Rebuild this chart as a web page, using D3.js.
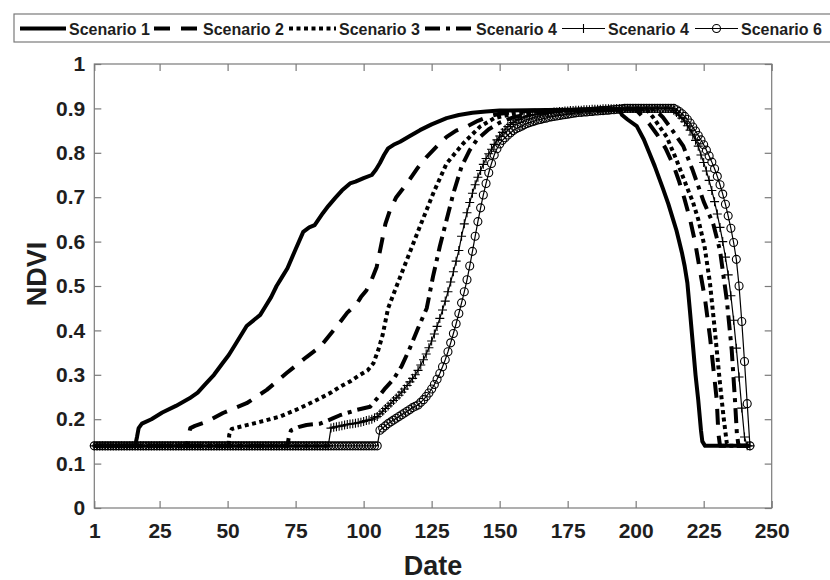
<!DOCTYPE html>
<html><head><meta charset="utf-8">
<script src="https://cdn.jsdelivr.net/npm/d3@7"></script>
<style>body{margin:0;background:#fff}svg{display:block}</style>
</head><body><svg id="chart" width="830" height="580"></svg>
<script>
// ---------------- data ----------------
const xTicks = [1, 25, 50, 75, 100, 125, 150, 175, 200, 225, 250];
const yTicks = [0, 0.1, 0.2, 0.3, 0.4, 0.5, 0.6, 0.7, 0.8, 0.9, 1];
const xLabel = "Date";
const yLabel = "NDVI";
const legendLabels = ["Scenario 1", "Scenario 2", "Scenario 3", "Scenario 4", "Scenario 4", "Scenario 6"];

// Scenario 1 (solid) [day, NDVI]
const scenario1 = [[1,0.14],[16,0.14],[16.7,0.16],[17.3,0.18],[18.5,0.19],[22,0.20],[26,0.215],[31,0.23],[36,0.247],[39,0.26],[42,0.28],[45,0.30],[48,0.325],[50.5,0.345],[53,0.37],[57,0.41],[60,0.425],[62,0.435],[64,0.455],[66,0.475],[68,0.50],[70,0.52],[72,0.54],[74.8,0.58],[77.8,0.622],[80,0.632],[82,0.637],[85,0.664],[87,0.68],[89.5,0.698],[92,0.715],[95,0.731],[97,0.735],[100,0.743],[103,0.75],[104.5,0.762],[106,0.777],[107.5,0.795],[109,0.81],[111,0.818],[113.4,0.825],[117,0.838],[120.7,0.851],[125,0.864],[130.5,0.878],[135,0.885],[140,0.89],[145,0.893],[150,0.895],[160,0.896],[175,0.897],[190,0.898],[194,0.897],[195,0.885],[197,0.875],[200.4,0.86],[203,0.83],[205,0.80],[207,0.77],[210,0.72],[212,0.685],[214,0.645],[215,0.625],[216,0.60],[217,0.575],[218,0.545],[219,0.507],[220,0.44],[221,0.37],[222,0.30],[223,0.243],[224,0.175],[224.5,0.15],[225.5,0.14],[242,0.14]];

// Scenario 2 (dashed)
const scenario2 = [[1,0.14],[35,0.14],[35.5,0.16],[36.3,0.18],[38,0.185],[42.3,0.194],[48.3,0.214],[57,0.236],[64.4,0.266],[71.7,0.304],[79,0.34],[84,0.363],[90,0.408],[94,0.44],[97.5,0.46],[99,0.475],[101,0.49],[103,0.515],[104.8,0.543],[106.7,0.60],[108,0.64],[109.7,0.671],[112,0.70],[115.9,0.731],[120,0.767],[123.2,0.791],[127,0.815],[130.5,0.836],[134,0.85],[137.9,0.859],[142,0.872],[146,0.882],[150,0.888],[160,0.894],[175,0.897],[200,0.898],[202,0.885],[205,0.865],[208,0.84],[211,0.81],[214,0.77],[216,0.735],[218,0.695],[220,0.65],[221.8,0.60],[223.6,0.536],[225.5,0.47],[227.3,0.386],[228.5,0.318],[229.8,0.243],[230.4,0.168],[231,0.14],[242,0.14]];

// Scenario 3 (dotted)
const scenario3 = [[1,0.14],[50.3,0.14],[50.6,0.165],[51.5,0.178],[54.6,0.183],[61.9,0.194],[69.3,0.206],[76.6,0.225],[84,0.247],[88,0.26],[91.3,0.273],[95,0.285],[98.7,0.30],[101.5,0.31],[103.6,0.326],[105.4,0.356],[107,0.39],[109,0.45],[112,0.498],[115.9,0.559],[120.7,0.634],[125.6,0.709],[130.5,0.776],[136.6,0.821],[142.8,0.859],[148,0.878],[155,0.888],[165,0.894],[180,0.897],[204,0.898],[206.4,0.88],[211.4,0.836],[215,0.784],[219,0.72],[221,0.69],[223,0.65],[225.3,0.59],[227.3,0.507],[229.2,0.394],[231,0.28],[232.3,0.205],[233.5,0.146],[234,0.14],[242,0.14]];

// Scenario 4 (dash-dot)
const scenario4 = [[1,0.14],[72,0.14],[72.5,0.16],[73.3,0.175],[76,0.182],[79,0.187],[84,0.19],[88,0.2],[91.3,0.209],[97.5,0.221],[102.4,0.228],[105.4,0.25],[108,0.27],[111,0.29],[114,0.32],[117,0.36],[120,0.405],[123.2,0.45],[125.5,0.521],[128,0.589],[130.5,0.649],[133,0.709],[136,0.769],[139,0.806],[141.6,0.829],[146,0.853],[150,0.868],[155,0.88],[162,0.889],[170,0.894],[185,0.897],[207,0.898],[210,0.88],[213,0.855],[217.5,0.815],[221,0.76],[225,0.69],[228.5,0.64],[231,0.58],[233.5,0.468],[235.3,0.356],[236.5,0.243],[237.2,0.168],[237.8,0.14],[242,0.14]];

// Scenario "4" (+ markers), daily values from day 1
const scenario5 = [
0.14,0.14,0.14,0.14,0.14,0.14,0.14,0.14,0.14,0.14,
0.14,0.14,0.14,0.14,0.14,0.14,0.14,0.14,0.14,0.14,
0.14,0.14,0.14,0.14,0.14,0.14,0.14,0.14,0.14,0.14,
0.14,0.14,0.14,0.14,0.14,0.14,0.14,0.14,0.14,0.14,
0.14,0.14,0.14,0.14,0.14,0.14,0.14,0.14,0.14,0.14,
0.14,0.14,0.14,0.14,0.14,0.14,0.14,0.14,0.14,0.14,
0.14,0.14,0.14,0.14,0.14,0.14,0.14,0.14,0.14,0.14,
0.14,0.14,0.14,0.14,0.14,0.14,0.14,0.14,0.14,0.14,
0.14,0.14,0.14,0.14,0.14,0.14,0.14,
0.180,0.182,0.183,0.184,0.185,0.187,0.188,0.189,0.190,0.191,0.192,0.193,0.195,0.197,0.198,0.200,0.203,0.206,
0.212,0.218,0.224,0.230,0.236,0.242,0.248,0.254,0.261,0.268,
0.276,0.284,0.292,0.300,0.310,0.322,0.334,0.347,0.361,0.376,
0.392,0.409,0.427,0.446,0.466,0.487,0.509,0.532,0.556,0.580,
0.612,0.640,0.665,0.688,0.709,0.728,0.745,0.760,0.774,0.787,
0.798,0.808,0.819,0.829,0.838,0.846,0.853,0.859,0.864,0.868,
0.872,0.875,0.878,0.880,0.882,
0.884,0.885,0.886,0.887,0.888,0.889,0.890,0.890,0.891,0.892,
0.892,0.893,0.893,0.894,0.894,
0.895,0.895,0.896,0.896,0.896,0.897,0.897,0.897,0.898,0.898,
0.898,0.898,0.899,0.899,0.899,0.899,0.899,0.900,0.900,0.900,
0.900,0.900,0.900,0.900,0.900,0.900,0.900,0.900,0.900,0.900,
0.900,0.900,0.900,0.900,0.900,0.900,0.900,
0.900,0.896,0.891,0.885,0.878,0.870,0.861,0.851,0.840,0.828,
0.815,0.795,0.778,0.759,0.738,0.715,0.690,0.662,0.632,0.600,
0.565,0.525,0.478,0.423,0.360,0.295,0.225,0.160,0.140,0.140];

// Scenario 6 (o markers), daily values from day 1
const scenario6 = [
0.14,0.14,0.14,0.14,0.14,0.14,0.14,0.14,0.14,0.14,
0.14,0.14,0.14,0.14,0.14,0.14,0.14,0.14,0.14,0.14,
0.14,0.14,0.14,0.14,0.14,0.14,0.14,0.14,0.14,0.14,
0.14,0.14,0.14,0.14,0.14,0.14,0.14,0.14,0.14,0.14,
0.14,0.14,0.14,0.14,0.14,0.14,0.14,0.14,0.14,0.14,
0.14,0.14,0.14,0.14,0.14,0.14,0.14,0.14,0.14,0.14,
0.14,0.14,0.14,0.14,0.14,0.14,0.14,0.14,0.14,0.14,
0.14,0.14,0.14,0.14,0.14,0.14,0.14,0.14,0.14,0.14,
0.14,0.14,0.14,0.14,0.14,0.14,0.14,0.14,0.14,0.14,
0.14,0.14,0.14,0.14,0.14,0.14,0.14,0.14,0.14,0.14,
0.14,0.14,0.14,0.14,0.14,
0.175,0.180,0.185,0.190,0.194,0.198,0.202,0.206,0.210,0.214,
0.218,0.222,0.226,0.229,0.232,
0.238,0.244,0.251,0.259,0.268,0.278,0.290,0.303,0.318,0.334,
0.352,0.372,0.393,0.415,0.438,0.462,0.487,0.514,0.545,0.578,
0.612,0.645,0.676,0.705,0.731,0.755,0.776,0.795,0.809,0.820,
0.828,0.834,0.840,0.845,0.850,0.854,0.857,0.860,0.863,0.866,
0.868,0.870,0.872,0.874,0.875,0.877,0.878,0.880,0.881,0.882,
0.883,0.884,0.885,0.886,0.887,0.888,0.889,0.890,0.891,0.891,
0.892,0.892,0.893,0.893,0.894,0.894,0.895,0.895,0.896,0.896,
0.897,0.897,0.898,0.898,0.899,
0.900,0.900,0.900,0.900,0.900,0.900,0.900,0.900,0.900,0.900,
0.900,0.900,0.900,0.900,0.900,0.900,0.900,0.900,
0.900,0.897,0.893,0.888,0.882,0.875,0.867,0.858,0.849,0.839,
0.829,0.818,0.806,0.793,0.779,0.764,0.747,0.728,0.707,0.684,
0.658,0.630,0.598,0.560,0.500,0.420,0.330,0.235,0.140];

// ---------------- drawing ----------------
const svg = d3.select("#chart");
const FONT = "'Liberation Sans', Arial, Helvetica, sans-serif";
const axisColor = "#7a7a7a";
const textColor = "#1e1e1e";

const margin = {left: 94.3, right: 830 - 771.7, top: 64, bottom: 580 - 508};
const x = d3.scaleLinear().domain([1, 250]).range([margin.left, 830 - margin.right]);
const y = d3.scaleLinear().domain([0, 1]).range([580 - margin.bottom, margin.top]);

// axes box
svg.append("rect")
  .attr("x", x(1)).attr("y", y(1))
  .attr("width", x(250) - x(1)).attr("height", y(0) - y(1))
  .attr("fill", "none").attr("stroke", axisColor).attr("stroke-width", 1.2);

function styleAxis(g, labels) {
  g.select(".domain").remove();
  g.selectAll(".tick line").attr("stroke", axisColor).attr("stroke-width", 1.2);
  g.selectAll(".tick text")
    .attr("fill", textColor)
    .style("font-family", FONT).style("font-weight", "bold").style("font-size", "21px");
  if (!labels) g.selectAll(".tick text").remove();
}
const fmtY = d => d === 0 ? "0" : d === 1 ? "1" : d3.format(".1f")(d);

svg.append("g").attr("transform", `translate(0,${y(0)})`)
  .call(d3.axisBottom(x).tickValues(xTicks).tickSizeInner(-7).tickSizeOuter(0).tickPadding(15).tickFormat(d3.format("d")))
  .call(g => styleAxis(g, true));
svg.append("g").attr("transform", `translate(0,${y(1)})`)
  .call(d3.axisTop(x).tickValues(xTicks).tickSizeInner(-7).tickSizeOuter(0))
  .call(g => styleAxis(g, false));
svg.append("g").attr("transform", `translate(${x(1)},0)`)
  .call(d3.axisLeft(y).tickValues(yTicks).tickSizeInner(-7).tickSizeOuter(0).tickPadding(9).tickFormat(fmtY))
  .call(g => styleAxis(g, true));
svg.append("g").attr("transform", `translate(${x(250)},0)`)
  .call(d3.axisRight(y).tickValues(yTicks).tickSizeInner(-7).tickSizeOuter(0))
  .call(g => styleAxis(g, false));

// axis labels
svg.append("text")
  .attr("transform", `translate(37,${(y(0) + y(1)) / 2 - 12}) rotate(-90)`)
  .attr("text-anchor", "middle").attr("dominant-baseline", "central")
  .attr("fill", textColor)
  .style("font-family", FONT).style("font-weight", "bold").style("font-size", "27px")
  .text(yLabel);
svg.append("text")
  .attr("x", (x(1) + x(250)) / 2).attr("y", 575)
  .attr("text-anchor", "middle")
  .attr("fill", textColor)
  .style("font-family", FONT).style("font-weight", "bold").style("font-size", "27px")
  .text(xLabel);

// series
const daily = arr => arr.map((v, i) => [i + 1, v]);
const series = [
  {data: scenario1, width: 4, dash: null},
  {data: scenario2, width: 4, dash: "16,11"},
  {data: scenario3, width: 4, dash: "4,3.5"},
  {data: scenario4, width: 4, dash: "15,6,4,6"},
  {data: daily(scenario5), width: 1.2, dash: null, marker: "plus"},
  {data: daily(scenario6), width: 1.2, dash: null, marker: "circle"}
];
const line = d3.line().x(d => x(d[0])).y(d => y(d[1]));
const plot = svg.append("g");
const plusPath = "M-4.5,0H4.5M0,-4.5V4.5";
series.forEach(s => {
  plot.append("path").datum(s.data)
    .attr("d", line)
    .attr("fill", "none").attr("stroke", "#000")
    .attr("stroke-width", s.width)
    .attr("stroke-linejoin", "round")
    .attr("stroke-dasharray", s.dash);
  if (s.marker === "plus") {
    plot.append("g").selectAll("path").data(s.data).join("path")
      .attr("transform", d => `translate(${x(d[0])},${y(d[1])})`)
      .attr("d", plusPath).attr("stroke", "#000").attr("stroke-width", 1.1).attr("fill", "none");
  } else if (s.marker === "circle") {
    plot.append("g").selectAll("circle").data(s.data).join("circle")
      .attr("cx", d => x(d[0])).attr("cy", d => y(d[1])).attr("r", 4)
      .attr("stroke", "#000").attr("stroke-width", 1.1).attr("fill", "none");
  }
});

// legend
const leg = svg.append("g");
leg.append("rect").attr("x", 14).attr("y", 14).attr("width", 830).attr("height", 28)
  .attr("fill", "#fff").attr("stroke", axisColor).attr("stroke-width", 1.2);
const legX = [20, 154, 289, 425, 562, 695];
const sampleLen = [46, 46, 47, 48, 43, 43];
legendLabels.forEach((lab, i) => {
  const s = series[i];
  const x0 = legX[i], x1 = legX[i] + sampleLen[i], ly = 28.5;
  leg.append("line").attr("x1", x0).attr("x2", x1).attr("y1", ly).attr("y2", ly)
    .attr("stroke", "#000").attr("stroke-width", s.width).attr("stroke-dasharray", s.dash);
  const cx = (x0 + x1) / 2;
  if (s.marker === "plus") {
    leg.append("path").attr("transform", `translate(${cx},${ly})`).attr("d", plusPath)
      .attr("stroke", "#000").attr("stroke-width", 1.1);
  } else if (s.marker === "circle") {
    leg.append("circle").attr("cx", cx).attr("cy", ly).attr("r", 4)
      .attr("stroke", "#000").attr("stroke-width", 1.1).attr("fill", "none");
  }
  leg.append("text").attr("x", x1 + 3).attr("y", 34.5)
    .attr("fill", textColor)
    .style("font-family", FONT).style("font-weight", "bold").style("font-size", "16px")
    .text(lab);
});
</script>
</body></html>
